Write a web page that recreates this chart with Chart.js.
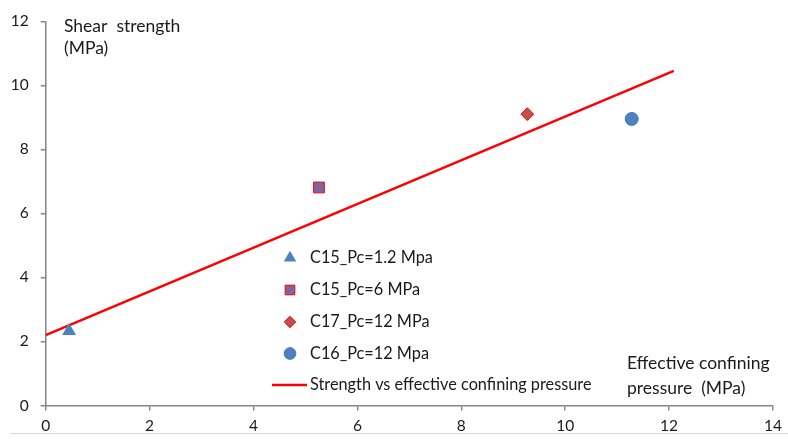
<!DOCTYPE html>
<html>
<head>
<meta charset="utf-8">
<script src="https://cdn.jsdelivr.net/npm/chart.js@4.4.0/dist/chart.umd.min.js"></script>
<style>
  html, body { margin: 0; padding: 0; background: #fff; }
  #wrap { width: 788px; height: 446px; position: relative; }
</style>
</head>
<body>
<div id="wrap"><canvas id="shearChart" width="788" height="446"></canvas></div>
<script>
// values
const seriesNames = ["C15_Pc=1.2 Mpa", "C15_Pc=6 MPa", "C17_Pc=12 MPa", "C16_Pc=12 Mpa"];
const pressureX = [0.45, 5.26, 9.27, 11.28];
const strengthY = [2.33, 6.81, 9.10, 8.95];
const fitLabel = "Strength vs effective confining pressure";
const fitX = [0, 12.09];
const fitY = [2.2, 10.45];
const xTicks = [0, 2, 4, 6, 8, 10, 12, 14];
const yTicks = [0, 2, 4, 6, 8, 10, 12];

const markerStyles = [
    { pointStyle: "triangle", radius: 8, fill: "#4F81BD", border: "#4F81BD", bw: 0 },
    { pointStyle: "rect", radius: 7.6, fill: "#8064A2", border: "#FF0000", bw: 1 },
    { pointStyle: "rectRot", radius: 6.4, fill: "#C0504D", border: "#FF0000", bw: 1 },
    { pointStyle: "circle", radius: 6.5, fill: "#4F81BD", border: "#3A75C4", bw: 1 }
];

const FONT = "Lato, 'Open Sans', sans-serif";
Chart.defaults.font.family = FONT;
Chart.defaults.color = "#1a1a1a";

const datasets = seriesNames.map(function (name, i) {
    const m = markerStyles[i];
    return {
        type: "scatter",
        label: name,
        data: [{ x: pressureX[i], y: strengthY[i] }],
        pointStyle: m.pointStyle,
        pointRadius: m.radius,
        pointHoverRadius: m.radius,
        backgroundColor: m.fill,
        borderColor: m.border,
        pointBorderWidth: m.bw,
        borderWidth: m.bw
    };
});

datasets.push({
    type: "line",
    label: fitLabel,
    data: fitX.map(function (x, i) { return { x: x, y: fitY[i] }; }),
    borderColor: "#FF0000",
    borderWidth: 2.5,
    pointRadius: 0,
    fill: false,
    tension: 0
});

// legend + axis titles drawn inside the plot, like the excel original
const overlayPlugin = {
    id: "overlay",
    afterDraw: function (chart) {
        const ctx = chart.ctx;
        ctx.save();

        // frame line at bottom
        ctx.strokeStyle = "#D9D9D9";
        ctx.lineWidth = 1;
        ctx.beginPath();
        ctx.moveTo(10, 433.5);
        ctx.lineTo(788, 433.5);
        ctx.stroke();

        ctx.fillStyle = "#1a1a1a";
        ctx.textBaseline = "middle";
        ctx.textAlign = "left";
        ctx.font = "17.5px " + FONT;
        ctx.fillText("Shear  strength", 64, 26);
        ctx.fillText("(MPa)", 64, 48);
        ctx.fillText("Effective confining", 627, 363);
        ctx.fillText("pressure  (MPa)", 627, 388);

        // legend
        const rows = [258, 290, 322, 353.5, 385];
        ctx.font = "16.3px " + FONT;
        chart.data.datasets.forEach(function (ds, i) {
            const y = rows[i];
            if (ds.type === "line") {
                ctx.strokeStyle = ds.borderColor;
                ctx.lineWidth = 2.5;
                ctx.beginPath();
                ctx.moveTo(272, y);
                ctx.lineTo(307, y);
                ctx.stroke();
            } else {
                ctx.fillStyle = ds.backgroundColor;
                ctx.strokeStyle = ds.borderColor;
                ctx.lineWidth = ds.borderWidth;
                Chart.helpers.drawPoint(ctx, {
                    pointStyle: ds.pointStyle,
                    radius: ds.pointRadius * 0.9,
                    rotation: 0,
                    borderWidth: ds.borderWidth
                }, 290, y);
            }
            ctx.fillStyle = "#1a1a1a";
            ctx.fillText(ds.label, 310, y);
        });
        ctx.restore();
    }
};

new Chart(document.getElementById("shearChart"), {
    type: "scatter",
    data: { datasets: datasets },
    options: {
        responsive: false,
        animation: false,
        events: [],
        layout: { padding: { top: 12.5, right: 11.3, left: 0, bottom: 0 } },
        plugins: {
            legend: { display: false },
            tooltip: { enabled: false }
        },
        scales: {
            x: {
                type: "linear",
                min: xTicks[0],
                max: xTicks[xTicks.length - 1],
                afterBuildTicks: function (s) { s.ticks = xTicks.map(function (v) { return { value: v }; }); },
                afterFit: function (s) { s.height = 40.5; },
                grid: { drawOnChartArea: false, drawTicks: true, tickLength: 5, color: "#868686", lineWidth: 1.5 },
                border: { color: "#868686", width: 1.5 },
                ticks: { padding: 6, font: { size: 15.5 }, color: "#1a1a1a" }
            },
            y: {
                type: "linear",
                min: yTicks[0],
                max: yTicks[yTicks.length - 1],
                afterBuildTicks: function (s) { s.ticks = yTicks.map(function (v) { return { value: v }; }); },
                afterFit: function (s) { s.width = 45.7; },
                grid: { drawOnChartArea: false, drawTicks: true, tickLength: 5, color: "#868686", lineWidth: 1.5 },
                border: { color: "#868686", width: 1.5 },
                ticks: { padding: 12, font: { size: 15.5 }, color: "#1a1a1a" }
            }
        }
    },
    plugins: [overlayPlugin]
});
</script>
</body>
</html>
